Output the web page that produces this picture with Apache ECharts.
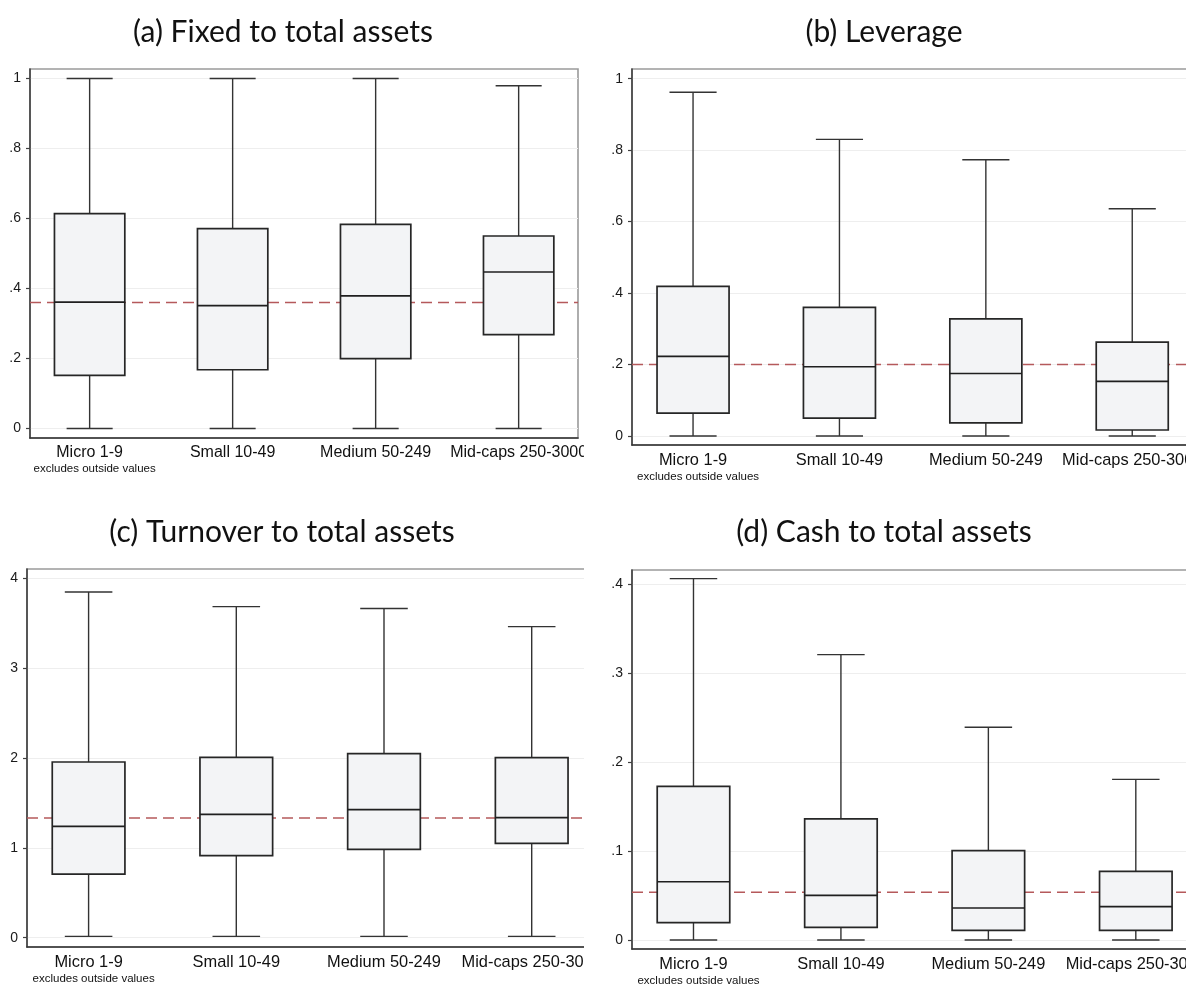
<!DOCTYPE html>
<html>
<head>
<meta charset="utf-8">
<title>Firm ratios by size class</title>
<script src="https://cdn.jsdelivr.net/npm/echarts@6/dist/echarts.min.js"></script>
<style>
  html, body { margin: 0; padding: 0; background: #ffffff; }
  body { width: 1186px; height: 988px; position: relative; overflow: hidden; }
  .panel { position: absolute; overflow: hidden; }
</style>
</head>
<body>
<div id="pa" class="panel" style="left:0px;top:0px;width:584px;height:494px;"></div>
<div id="pb" class="panel" style="left:590px;top:0px;width:596px;height:494px;"></div>
<div id="pc" class="panel" style="left:0px;top:494px;width:584px;height:494px;"></div>
<div id="pd" class="panel" style="left:590px;top:494px;width:596px;height:494px;"></div>
<script>
// Size classes (employees)
const categories = ['Micro 1-9', 'Small 10-49', 'Medium 50-249', 'Mid-caps 250-3000'];
const categoryNote = 'excludes outside values';

// Box statistics per size class: [lower adjacent, p25, median, p75, upper adjacent]
const fixedToAssets = [
  [0.000, 0.152, 0.361, 0.614, 1.000],
  [0.000, 0.168, 0.351, 0.571, 1.000],
  [0.000, 0.200, 0.379, 0.583, 1.000],
  [0.000, 0.268, 0.447, 0.550, 0.979]
];
const leverage = [
  [0.000, 0.064, 0.223, 0.419, 0.962],
  [0.000, 0.050, 0.194, 0.360, 0.830],
  [0.000, 0.037, 0.175, 0.328, 0.773],
  [0.000, 0.017, 0.153, 0.263, 0.636]
];
const turnoverToAssets = [
  [0.015, 0.708, 1.238, 1.954, 3.845],
  [0.015, 0.912, 1.372, 2.006, 3.682],
  [0.015, 0.982, 1.424, 2.047, 3.660],
  [0.015, 1.049, 1.335, 2.002, 3.459]
];
const cashToAssets = [
  [0.000, 0.0195, 0.0655, 0.1727, 0.406],
  [0.000, 0.0142, 0.0502, 0.1360, 0.3206],
  [0.000, 0.0109, 0.0360, 0.1004, 0.2390],
  [0.000, 0.0109, 0.0375, 0.0772, 0.1805]
];

// Reference level for the whole sample (dashed line)
const fixedOverall = 0.36;
const leverageOverall = 0.20;
const turnoverOverall = 1.331;
const cashOverall = 0.0536;

// Tick labels on the value axes
const fixedTicks = [0, 0.2, 0.4, 0.6, 0.8, 1];
const leverageTicks = [0, 0.2, 0.4, 0.6, 0.8, 1];
const turnoverTicks = [0, 1, 2, 3, 4];
const cashTicks = [0, 0.1, 0.2, 0.3, 0.4];

// Category positions sit at 1..4 on a numeric x scale
const xMin = 0.583;
const xMax = 4.415;

const LABEL_FONT = '"Liberation Sans", Arial, Helvetica, sans-serif';
const TITLE_FONT = 'Lato, "Open Sans", sans-serif';

function stataNumber(v) {
  if (Math.abs(v) < 1e-9) return '0';
  let s = String(+v.toFixed(3));
  return s.replace(/^0\./, '.').replace(/^-0\./, '-.');
}

function renderBox(params, api) {
  const x = api.value(0);
  const lo = api.coord([x, api.value(1)]);
  const q1 = api.coord([x, api.value(2)]);
  const md = api.coord([x, api.value(3)]);
  const q3 = api.coord([x, api.value(4)]);
  const hi = api.coord([x, api.value(5)]);
  const band = api.size([1, 0])[0];
  const boxW = band * 0.492;
  const capW = band * 0.322;
  const cx = lo[0];
  const whisker = { stroke: '#333333', lineWidth: 1.4 };
  return {
    type: 'group',
    children: [
      { type: 'line', shape: { x1: cx, y1: hi[1], x2: cx, y2: q3[1] }, style: whisker },
      { type: 'line', shape: { x1: cx, y1: q1[1], x2: cx, y2: lo[1] }, style: whisker },
      { type: 'line', shape: { x1: cx - capW / 2, y1: hi[1], x2: cx + capW / 2, y2: hi[1] }, style: whisker },
      { type: 'line', shape: { x1: cx - capW / 2, y1: lo[1], x2: cx + capW / 2, y2: lo[1] }, style: whisker },
      { type: 'rect', shape: { x: cx - boxW / 2, y: q3[1], width: boxW, height: q1[1] - q3[1] },
        style: { fill: '#f3f4f6', stroke: '#262626', lineWidth: 1.7 } },
      { type: 'line', shape: { x1: cx - boxW / 2, y1: md[1], x2: cx + boxW / 2, y2: md[1] },
        style: { stroke: '#1f1f1f', lineWidth: 1.6 } }
    ]
  };
}

function buildOption(p) {
  return {
    animation: false,
    backgroundColor: '#ffffff',
    title: {
      text: p.title,
      left: p.titleX,
      top: p.titleY,
      textAlign: 'center',
      textStyle: { fontFamily: TITLE_FONT, fontSize: p.titleSize, fontWeight: 'normal', color: '#111111' }
    },
    grid: {
      left: p.grid[0], top: p.grid[1], width: p.grid[2], height: p.grid[3],
      outerBoundsMode: 'none',
      containLabel: false,
      show: true, backgroundColor: 'transparent', borderColor: '#9a9a9a', borderWidth: 1.6
    },
    xAxis: {
      type: 'value',
      min: xMin,
      max: xMax,
      axisLine: { show: true, onZero: false, lineStyle: { color: '#333333', width: 1.6 } },
      axisTick: { show: false },
      splitLine: { show: false },
      axisLabel: {
        margin: 6,
        hideOverlap: false,
        fontFamily: LABEL_FONT,
        fontSize: p.catSize,
        color: '#111111',
        formatter: function (v) {
          const i = Math.round(v);
          if (Math.abs(v - i) > 1e-6 || i < 1 || i > categories.length) return '';
          if (i === 1) return '{a|' + categories[0] + '}\n{b|' + categoryNote + '}';
          return '{a|' + categories[i - 1] + '}';
        },
        rich: {
          a: { fontFamily: LABEL_FONT, fontSize: p.catSize, lineHeight: p.catSize + 2, color: '#111111' },
          b: { fontFamily: LABEL_FONT, fontSize: p.noteSize, lineHeight: p.noteSize + 3, color: '#111111', padding: [0, 0, 0, 10] }
        }
      }
    },
    yAxis: {
      type: 'value',
      min: p.yRange[0],
      max: p.yRange[1],
      splitNumber: 5,
      axisLine: { show: true, onZero: false, lineStyle: { color: '#404040', width: 1.6 } },
      axisTick: { show: true, length: 4, customValues: p.ticks, lineStyle: { color: '#404040', width: 1.2 } },
      splitLine: { show: true, lineStyle: { color: '#eeeeee', width: 1.2 } },
      axisLabel: {
        margin: 9,
        customValues: p.ticks,
        fontFamily: LABEL_FONT,
        fontSize: p.tickSize,
        color: '#1a1a1a',
        formatter: function (v) {
          for (const t of p.ticks) {
            if (Math.abs(t - v) < 1e-9) return stataNumber(t);
          }
          return '';
        }
      }
    },
    series: [
      {
        type: 'line',
        silent: true,
        z: 1,
        symbol: 'none',
        data: [[xMin, p.overall], [xMax, p.overall]],
        lineStyle: { color: '#b5595b', width: 1.5, type: [11, 6] }
      },
      {
        type: 'custom',
        z: 3,
        silent: true,
        renderItem: renderBox,
        encode: { x: 0, y: [1, 2, 3, 4, 5] },
        data: p.boxes.map(function (b, i) { return [i + 1].concat(b); })
      }
    ]
  };
}

const panels = [
  { el: 'pa', title: '(a) Fixed to total assets', titleX: 278, titleY: 12, titleSize: 30,
    grid: [30, 69, 548, 369], yRange: [-0.027, 1.027], ticks: fixedTicks,
    boxes: fixedToAssets, overall: fixedOverall, catSize: 16, noteSize: 11.5, tickSize: 14 },
  { el: 'pb', title: '(b) Leverage', titleX: 289, titleY: 12, titleSize: 30,
    grid: [42, 69, 561, 376], yRange: [-0.025, 1.027], ticks: leverageTicks,
    boxes: leverage, overall: leverageOverall, catSize: 16.4, noteSize: 11.5, tickSize: 14 },
  { el: 'pc', title: '(c) Turnover to total assets', titleX: 277, titleY: 18, titleSize: 30,
    grid: [27, 75, 566, 378], yRange: [-0.103, 4.1], ticks: turnoverTicks,
    boxes: turnoverToAssets, overall: turnoverOverall, catSize: 16.4, noteSize: 11.5, tickSize: 14 },
  { el: 'pd', title: '(d) Cash to total assets', titleX: 289, titleY: 18, titleSize: 30,
    grid: [42, 76, 565, 379], yRange: [-0.0101, 0.4157], ticks: cashTicks,
    boxes: cashToAssets, overall: cashOverall, catSize: 16.4, noteSize: 11.5, tickSize: 14 }
];

panels.forEach(function (p) {
  const chart = echarts.init(document.getElementById(p.el), null, { renderer: 'canvas' });
  chart.setOption(buildOption(p));
});
</script>
</body>
</html>
